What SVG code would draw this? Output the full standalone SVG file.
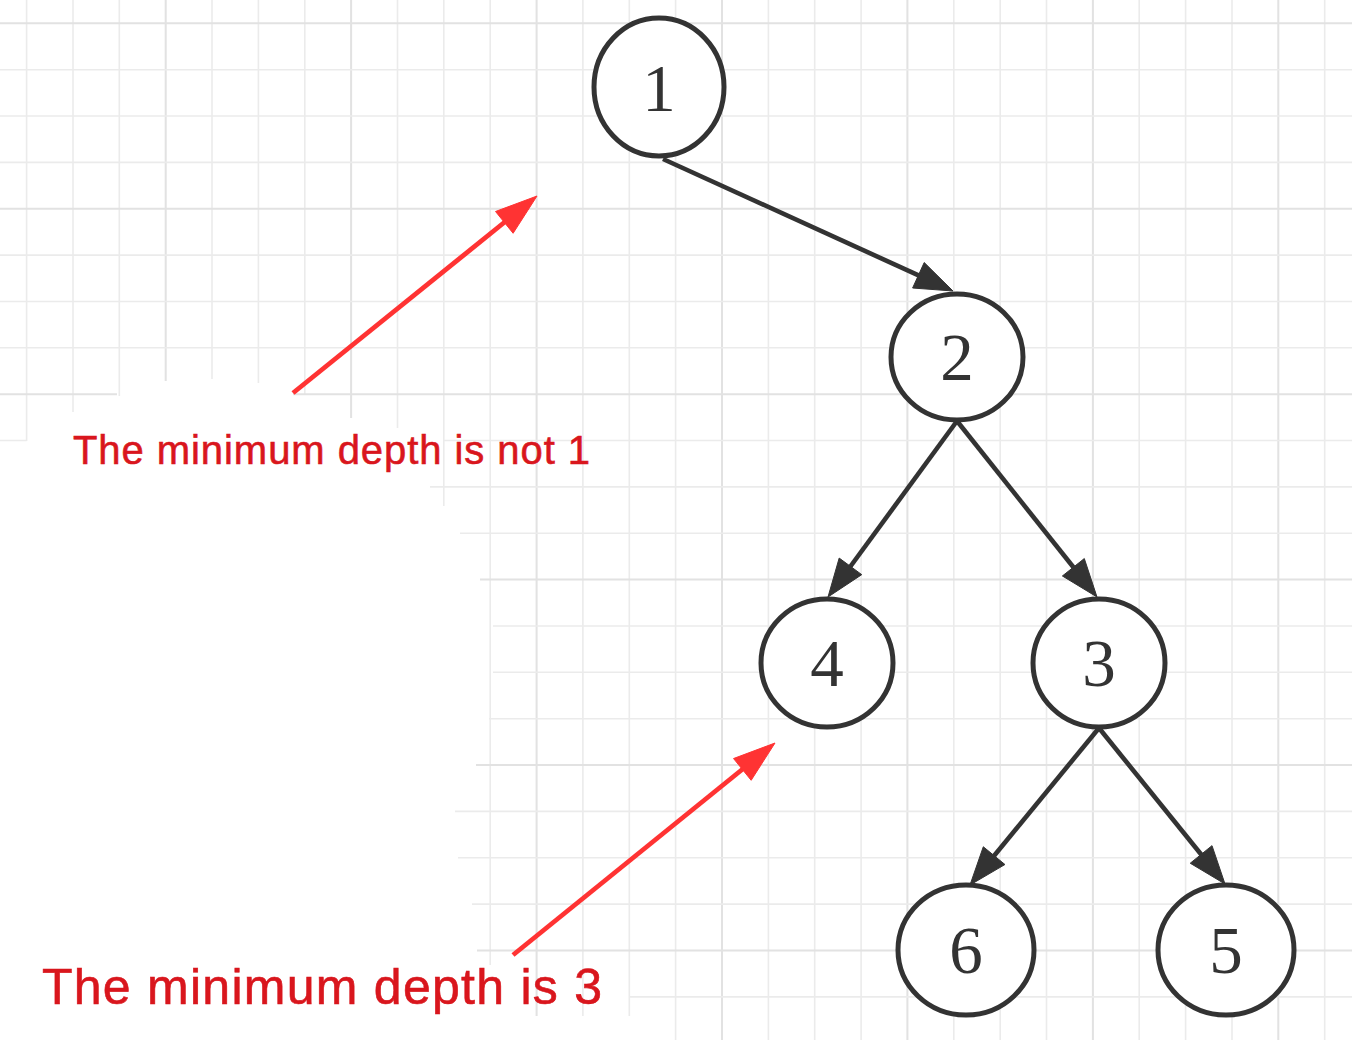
<svg xmlns="http://www.w3.org/2000/svg" width="1352" height="1040" viewBox="0 0 1352 1040">
  <style>
    .minor { stroke: #ebebeb; stroke-width: 1.6; fill: none; }
    .major { stroke: #e2e2e2; stroke-width: 2; fill: none; }
    .node ellipse { fill: #ffffff; stroke: #333333; stroke-width: 5; }
    .node text { font-family: "Liberation Serif", "Times New Roman", serif; font-size: 67px; fill: #333333; text-anchor: middle; }
    .edge line { stroke: #333333; stroke-width: 4.6; }
    .edge polygon { fill: #333333; stroke: #333333; stroke-width: 1; stroke-linejoin: miter; }
    .note line { stroke: #ff3333; stroke-width: 4.8; }
    .note polygon { fill: #ff3333; stroke: #ff3333; stroke-width: 1; }
    .label { font-family: "Liberation Sans", Arial, sans-serif; fill: #d9161d; stroke: #d9161d; stroke-width: 0.6; }
  </style>
  <rect x="0" y="0" width="1352" height="1040" fill="#ffffff"/>
  <g id="grid">
    <path class="minor" d="M26.6,0V441 M73,0V412 M119.3,0V396 M212,0V379 M258.4,0V383 M304.8,0V395 M397.5,0V428 M443.8,0V506 M490.2,0V965 M582.9,0V1016 M629.3,0V1016 M675.6,0V1040 M768.4,0V1040 M814.7,0V1040 M861.1,0V1040 M953.8,0V1040 M1000.2,0V1040 M1046.5,0V1040 M1139.2,0V1040 M1185.6,0V1040 M1232,0V1040 M1324.7,0V1040"/>
    <path class="major" d="M165.7,0V381 M351.1,0V418 M536.6,0V1016 M722,0V1040 M907.4,0V1040 M1092.9,0V1040 M1278.3,0V1040"/>
    <path class="minor" d="M0,69.7H1352 M0,116H1352 M0,162.4H1352 M0,255.1H1352 M0,301.5H1352 M0,347.8H1352 M0,440.5H26.6 M443,440.5H1352 M430,486.9H1352 M460,533.3H1352 M493,626H1352 M493,672.3H1352 M489,718.7H1352 M455,811.4H1352 M458,857.8H1352 M472,904.1H1352 M630,996.9H1352"/>
    <path class="major" d="M0,23.3H1352 M0,208.7H1352 M0,394.2H117 M293,394.2H1352 M480,579.6H1352 M476,765.1H1352 M477,950.5H1352"/>
  </g>
  <g id="connectors">
    <g class="edge" id="e1-2">
      <line x1="663" y1="159" x2="920.2" y2="276.1"/>
      <polygon points="953,291 912.61,288 924.21,262.52"/>
    </g>
    <g class="edge" id="e2-4">
      <line x1="957" y1="421" x2="849.3" y2="568"/>
      <polygon points="828,597 839.18,558.07 861.76,574.63"/>
    </g>
    <g class="edge" id="e2-3">
      <line x1="957" y1="421" x2="1074.6" y2="568.8"/>
      <polygon points="1097,597 1062.38,575.98 1084.3,558.55"/>
    </g>
    <g class="edge" id="e3-6">
      <line x1="1099" y1="728" x2="992.9" y2="857.2"/>
      <polygon points="970,885 983.3,846.75 1004.94,864.53"/>
    </g>
    <g class="edge" id="e3-5">
      <line x1="1099" y1="728" x2="1202.4" y2="856"/>
      <polygon points="1225,884 1190.23,863.23 1212.01,845.63"/>
    </g>
  </g>
  <g id="node1" class="node">
    <ellipse cx="659" cy="87" rx="65" ry="69"/>
    <text x="659" y="111">1</text>
  </g>
  <g id="node2" class="node">
    <ellipse cx="957" cy="357" rx="66" ry="63"/>
    <text x="957" y="380">2</text>
  </g>
  <g id="node4" class="node">
    <ellipse cx="827" cy="663" rx="66" ry="64"/>
    <text x="827" y="686">4</text>
  </g>
  <g id="node3" class="node">
    <ellipse cx="1099" cy="663" rx="66" ry="64"/>
    <text x="1099" y="686">3</text>
  </g>
  <g id="node6" class="node">
    <ellipse cx="966" cy="950" rx="68" ry="65"/>
    <text x="966" y="973">6</text>
  </g>
  <g id="node5" class="node">
    <ellipse cx="1226" cy="950" rx="68" ry="65"/>
    <text x="1226" y="973">5</text>
  </g>
  <g id="note1" class="note">
    <line x1="293" y1="393" x2="506" y2="221"/>
    <polygon points="537,196 513.11,233.27 495.53,211.49"/>
    <text class="label" x="73" y="464" font-size="40" textLength="517" lengthAdjust="spacing">The minimum depth is not 1</text>
  </g>
  <g id="note2" class="note">
    <line x1="513" y1="955" x2="744" y2="768"/>
    <polygon points="775,743 751.16,780.3 733.54,758.54"/>
    <text class="label" x="42" y="1004" font-size="50" textLength="560" lengthAdjust="spacing">The minimum depth is 3</text>
  </g>
</svg>
